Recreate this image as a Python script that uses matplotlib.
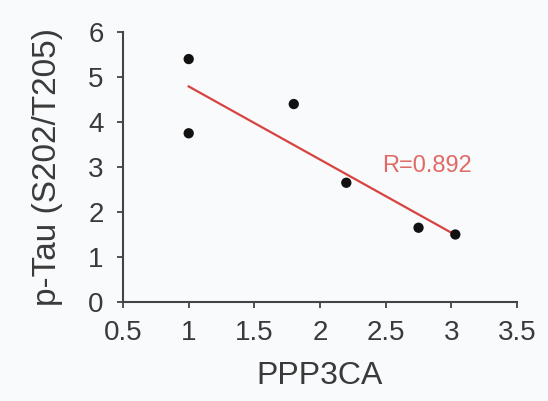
import numpy as np
import matplotlib
matplotlib.use("Agg")
import matplotlib.pyplot as plt

plt.rcParams['font.family'] = ['Liberation Sans', 'DejaVu Sans']

# PPP3CA expression vs phospho-Tau level
ppp3ca = [1.0, 1.0, 1.8, 2.2, 2.75, 3.03]
ptau = [5.4, 3.75, 4.4, 2.65, 1.65, 1.5]
r_label = "R=0.892"

x_ticks = [0.5, 1, 1.5, 2, 2.5, 3, 3.5]
x_tick_labels = ["0.5", "1", "1.5", "2", "2.5", "3", "3.5"]
y_ticks = [0, 1, 2, 3, 4, 5, 6]

bg = "#f9fafc"
fig = plt.figure(figsize=(5.48, 4.01), dpi=100, facecolor=bg)
ax = fig.add_axes([0.2245, 0.247, 0.719, 0.673], facecolor=bg)

# least-squares trend line over the data range
slope, intercept = np.polyfit(ppp3ca, ptau, 1)
xs = np.array([min(ppp3ca), max(ppp3ca)])
ax.plot(xs, slope * xs + intercept, color="#d8433f", lw=1.6, zorder=2)
ax.scatter(ppp3ca, ptau, s=55, color="#111111", zorder=3, edgecolors="none")

ax.text(2.47, 3.02, r_label, color="#e06a66", fontsize=17, va="center", ha="left")

ax.set_xlim(0.5, 3.5)
ax.set_ylim(0, 6)
ax.set_xticks(x_ticks)
ax.set_xticklabels(x_tick_labels)
ax.set_yticks(y_ticks)

for side in ("top", "right"):
    ax.spines[side].set_visible(False)
for side in ("left", "bottom"):
    ax.spines[side].set_color("#444444")
    ax.spines[side].set_linewidth(1.5)

ax.tick_params(axis="both", colors="#444444", labelcolor="#3a3a3a",
               labelsize=20, length=4, width=1.3, direction="out")
ax.tick_params(axis="x", pad=9)
ax.tick_params(axis="y", pad=10)

ax.set_xlabel("PPP3CA", fontsize=23, color="#3a3a3a", labelpad=11)
ax.set_ylabel("p-Tau (S202/T205)", fontsize=24, color="#3a3a3a", labelpad=18)

fig.savefig("out.png", dpi=100, facecolor=bg)
